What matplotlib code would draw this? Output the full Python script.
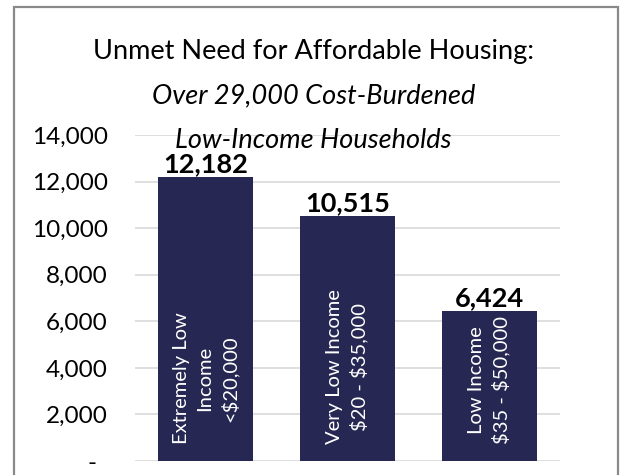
import matplotlib
matplotlib.use("Agg")
import matplotlib.pyplot as plt
from matplotlib.patches import Rectangle
from matplotlib.transforms import ScaledTranslation

categories = ["Extremely Low\nIncome\n<\\$20,000", "Very Low Income\n\\$20 - \\$35,000", "Low Income\n\\$35 - \\$50,000"]
values = [12182, 10515, 6424]
yticks = [0, 2000, 4000, 6000, 8000, 10000, 12000, 14000]
ytick_labels = ["-", "2,000", "4,000", "6,000", "8,000", "10,000", "12,000", "14,000"]

plt.rcParams['font.family'] = ['Lato', 'DejaVu Sans']

W, H = 621, 475
fig = plt.figure(figsize=(W/100, H/100), dpi=100)
ax = fig.add_axes([135/W, (H-461)/H, 425/W, 326/H])

bar_color = "#262853"
x = list(range(len(values)))
bars = ax.bar(x, values, width=0.67, color=bar_color, zorder=3)
ax.set_xlim(-0.5, 2.5)
ax.set_ylim(0, 14000)
ax.set_yticks(yticks)
ax.set_yticklabels(ytick_labels, fontsize=17.5)
ax.set_xticks([])
ax.tick_params(axis='y', length=0, pad=19.5)
for s in ax.spines.values():
    s.set_visible(False)
ax.yaxis.grid(True, color="#D9D9D9", linewidth=1.2, zorder=0)
ax.set_axisbelow(True)

zero_lbl = ax.get_yticklabels()[0]
zero_lbl.set_transform(zero_lbl.get_transform() + ScaledTranslation(-0.11, 0, fig.dpi_scale_trans))

for xi, v, c in zip(x, values, categories):
    ax.annotate(f"{v:,}", (xi, v), xytext=(0, 1), textcoords="offset points",
                ha="center", va="bottom", fontsize=19.5, fontweight="bold", color="black")
    ax.annotate(c, (xi, 0), xytext=(0, 12), textcoords="offset points",
                ha="center", va="bottom", rotation=90, multialignment="center",
                fontsize=14.5, color="white", linespacing=1.45, zorder=4)

fig.text(0.505, 1 - 51/H, "Unmet Need for Affordable Housing:", ha="center", va="center", fontsize=19.5)
fig.text(0.505, 1 - 96/H, "Over 29,000 Cost-Burdened", ha="center", va="center", fontsize=19.5, style="italic")
fig.text(0.505, 1 - 140/H, "Low-Income Households", ha="center", va="center", fontsize=19.5, style="italic")

fig.patches.append(Rectangle((14/W, -0.05), (618-14)/W, 1 - 7/H + 0.05, transform=fig.transFigure,
                             fill=False, edgecolor="#898989", linewidth=1.6, clip_on=False))

fig.savefig("out.png", dpi=100)
